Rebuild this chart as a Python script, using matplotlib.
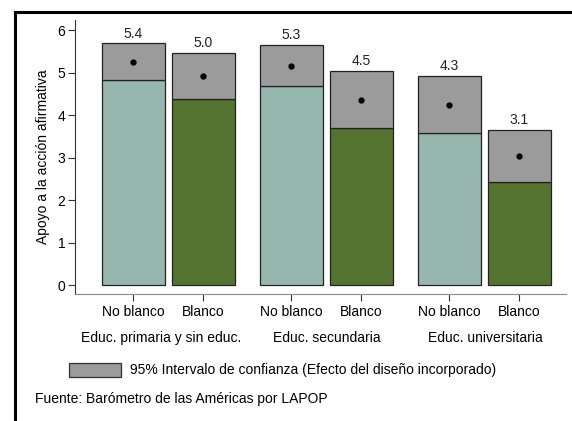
import numpy as np
import matplotlib
matplotlib.use('Agg')
import matplotlib.pyplot as plt
from matplotlib.lines import Line2D
from matplotlib.patches import Rectangle

plt.rcParams['font.family'] = ['Liberation Sans', 'DejaVu Sans']
plt.rcParams['font.size'] = 10

# datos por grupo educativo y raza
grupos = ['Educ. primaria y sin educ.', 'Educ. secundaria', 'Educ. universitaria']
razas = ['No blanco', 'Blanco']
media = [5.25, 4.92, 5.16, 4.35, 4.25, 3.04]
ic_bajo = [4.82, 4.39, 4.68, 3.69, 3.57, 2.43]
ic_alto = [5.69, 5.47, 5.65, 5.04, 4.93, 3.65]
etiquetas = ['5.4', '5.0', '5.3', '4.5', '4.3', '3.1']

c_noblanco = '#97b6ae'
c_blanco = '#557330'
c_ic = '#9b9b9b'
borde = '#222222'

sep = 0.257
pos = []
for g in range(len(grupos)):
    for i in range(len(razas)):
        pos.append(g * (2 + sep) + i)
pos = np.array(pos)
colores = [c_noblanco, c_blanco] * len(grupos)

fig = plt.figure(figsize=(5.72, 4.21), dpi=100)
ax = fig.add_axes([0.1311, 0.3017, 0.8584, 0.6508])

ancho = 0.9
ax.bar(pos, ic_bajo, width=ancho, color=colores, edgecolor=borde, linewidth=0.9, zorder=2)
ax.bar(pos, np.array(ic_alto) - np.array(ic_bajo), bottom=ic_bajo, width=ancho,
       color=c_ic, edgecolor=borde, linewidth=0.9, zorder=2)
ax.plot(pos, media, 'o', color='black', markersize=3.5, zorder=3)
for x, y, t in zip(pos, ic_alto, etiquetas):
    ax.annotate(t, (x, y), xytext=(0, 2), textcoords='offset points',
                ha='center', va='bottom', fontsize=10, color='#222222')

xmin, xmax = -0.836, 6.18
ax.set_xlim(xmin, xmax)
ax.set_ylim(-0.21, 6.24)
ax.set_yticks(range(7))
ax.set_xticks(pos)
ax.set_xticklabels(razas * len(grupos))
ax.set_ylabel('Apoyo a la acción afirmativa', fontsize=10, labelpad=5)

for s in ['top', 'right']:
    ax.spines[s].set_visible(False)
ax.spines['left'].set_color('#333333')
ax.spines['bottom'].set_color('#8a8a8a')
ax.tick_params(axis='y', length=5, width=0.8, color='#333333', pad=2)
ax.tick_params(axis='x', length=5, width=0.8, color='#333333', pad=3)

# etiquetas de grupo centradas en cada subeje
limites = [xmin]
for g in range(len(grupos) - 1):
    limites.append((pos[2 * g + 1] + pos[2 * g + 2]) / 2)
limites.append(xmax)
for g, nombre in enumerate(grupos):
    xc = (limites[g] + limites[g + 1]) / 2
    ax.text(xc, -1.07, nombre, ha='center', va='top', fontsize=10)

# leyenda
fig.patches.append(Rectangle((69 / 572, 1 - 377 / 421), 52 / 572, 14 / 421,
                             transform=fig.transFigure, facecolor=c_ic,
                             edgecolor='#333333', linewidth=0.9))
fig.text(130 / 572, 1 - 370 / 421, '95% Intervalo de confianza (Efecto del diseño incorporado)',
         ha='left', va='center', fontsize=10)
fig.text(35 / 572, 1 - 399 / 421, 'Fuente: Barómetro de las Américas por LAPOP',
         ha='left', va='center', fontsize=10)

# marco exterior
xl = 15 / 572
yt = 1 - 12 / 421
fig.lines.append(Line2D([xl, xl], [0, yt], transform=fig.transFigure, color='black', linewidth=2.2))
fig.lines.append(Line2D([xl, 1], [yt, yt], transform=fig.transFigure, color='black', linewidth=2.2))

fig.savefig('out.png', dpi=100)
